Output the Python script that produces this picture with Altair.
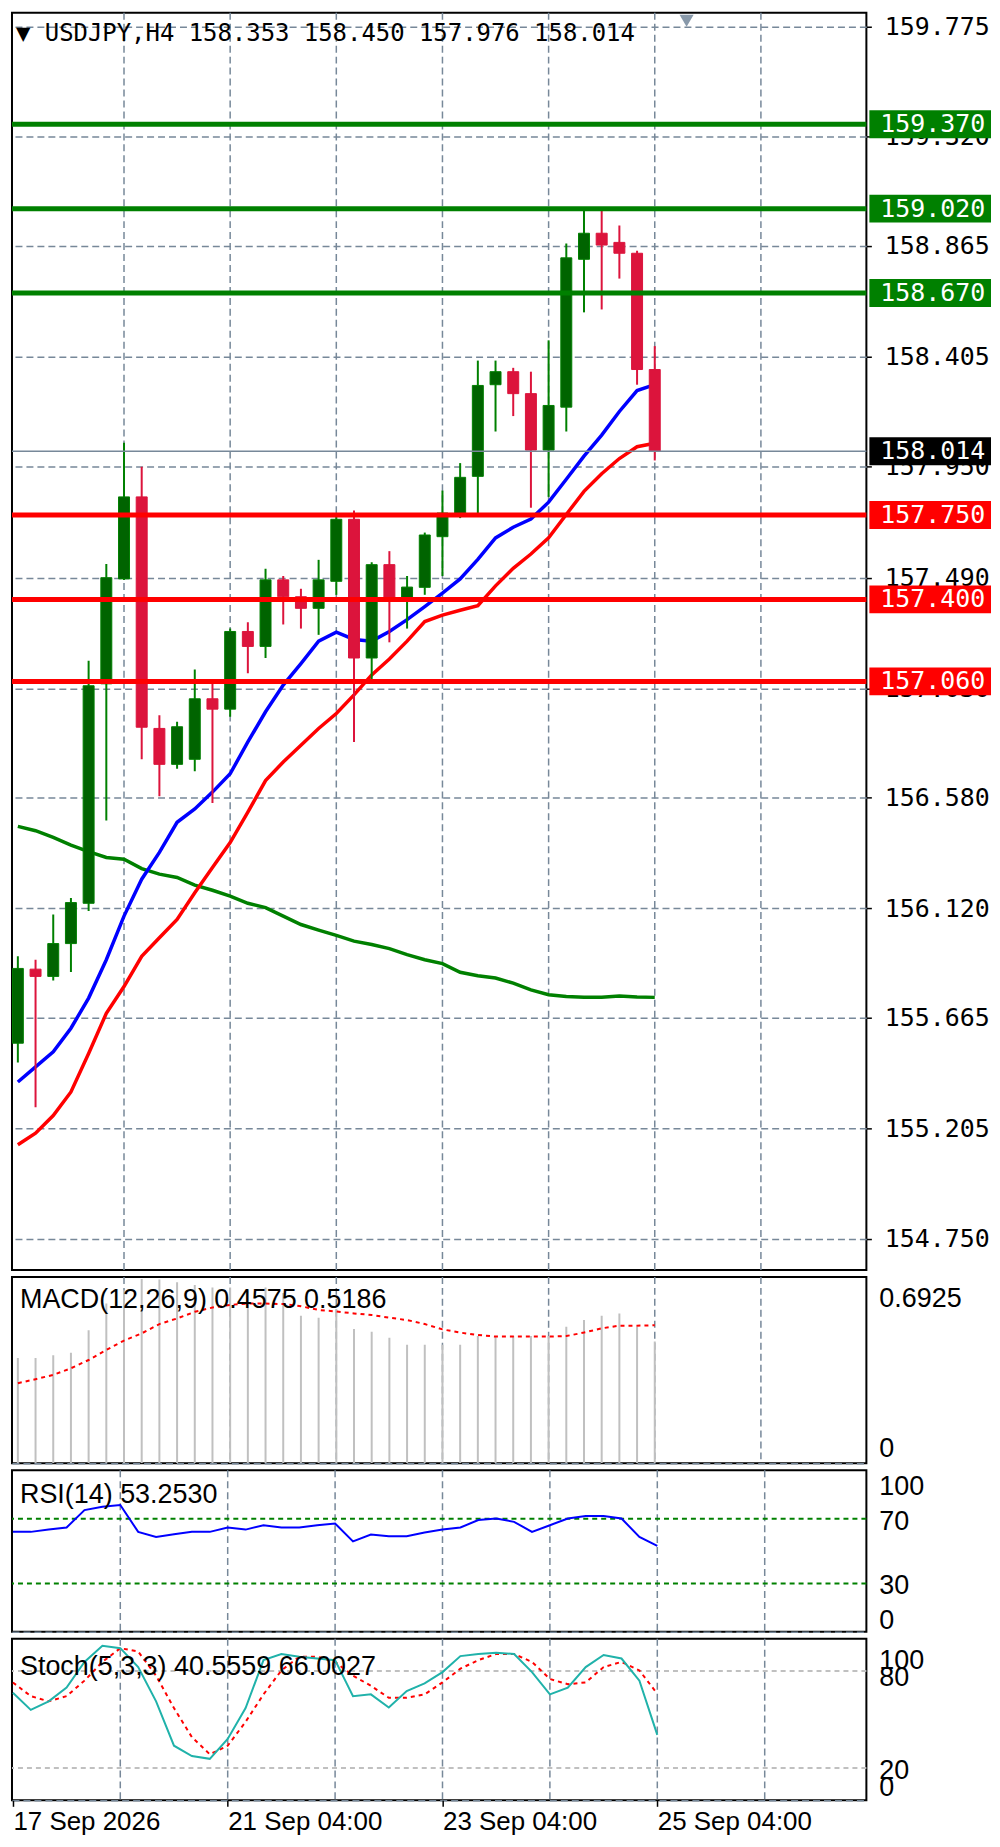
import altair as alt
import pandas as pd

# ---------------- data ----------------
idx = list(range(37))
opens = [155.56, 155.867, 155.837, 155.973, 156.14, 157.05, 157.485, 157.825, 156.865, 156.716,
         156.737, 156.988, 156.945, 157.267, 157.205, 157.481, 157.411, 157.363, 157.475, 157.732,
         157.157, 157.544, 157.404, 157.45, 157.66, 157.753, 157.91, 158.29, 158.344, 158.253,
         158.019, 158.197, 158.81, 158.918, 158.88, 158.835, 158.353]
highs = [155.92, 155.906, 156.094, 156.162, 157.146, 157.547, 158.049, 157.950, 156.920, 156.893,
         157.109, 157.064, 157.279, 157.305, 157.527, 157.497, 157.444, 157.564, 157.751, 157.769,
         157.554, 157.600, 157.497, 157.677, 157.851, 157.965, 158.390, 158.390, 158.360, 158.344,
         158.474, 158.875, 159.020, 159.020, 158.95, 158.845, 158.450]
lows = [155.48, 155.294, 155.82, 155.855, 156.108, 156.483, 157.48, 156.737, 156.584, 156.698,
        156.688, 156.556, 156.913, 157.094, 157.157, 157.296, 157.279, 157.253, 157.419, 156.809,
        157.064, 157.222, 157.279, 157.419, 157.497, 157.737, 157.753, 158.096, 158.160, 157.780,
        157.825, 158.096, 158.59, 158.602, 158.73, 158.29, 157.976]
closes = [155.87, 155.837, 155.973, 156.143, 157.042, 157.49, 157.825, 156.87, 156.716, 156.872,
          156.988, 156.945, 157.267, 157.205, 157.481, 157.411, 157.363, 157.481, 157.732, 157.157,
          157.544, 157.404, 157.451, 157.667, 157.758, 157.906, 158.287, 158.344, 158.253, 158.019,
          158.204, 158.816, 158.918, 158.869, 158.835, 158.353, 158.014]

ema_blue = [155.399, 155.462, 155.524, 155.622, 155.747, 155.906, 156.087, 156.240, 156.351, 156.476,
            156.531, 156.601, 156.677, 156.809, 156.934, 157.045, 157.134, 157.227, 157.264, 157.234,
            157.227, 157.267, 157.316, 157.370, 157.426, 157.485, 157.566, 157.655, 157.699, 157.733,
            157.803, 157.898, 157.994, 158.081, 158.179, 158.266, 158.290]
ema_red = [155.139, 155.187, 155.26, 155.358, 155.517, 155.684, 155.795, 155.92, 155.997, 156.073,
           156.184, 156.288, 156.392, 156.518, 156.649, 156.726, 156.795, 156.865, 156.927, 157.004,
           157.087, 157.153, 157.227, 157.308, 157.335, 157.355, 157.374, 157.456, 157.529, 157.588,
           157.655, 157.752, 157.848, 157.921, 157.984, 158.033, 158.047]
sma_green = [156.459, 156.441, 156.413, 156.381, 156.354, 156.330, 156.323, 156.284, 156.261, 156.247,
             156.215, 156.194, 156.170, 156.140, 156.122, 156.087, 156.052, 156.029, 156.007, 155.983,
             155.969, 155.952, 155.927, 155.906, 155.890, 155.854, 155.840, 155.830, 155.809, 155.781,
             155.761, 155.754, 155.751, 155.751, 155.756, 155.752, 155.750]

macd_hist = [0.396, 0.396, 0.406, 0.415, 0.50, 0.60, 0.65, 0.6925, 0.69, 0.68,
             0.67, 0.66, 0.66, 0.65, 0.66, 0.64, 0.554, 0.547, 0.58, 0.504,
             0.494, 0.472, 0.445, 0.445, 0.445, 0.445, 0.478, 0.478, 0.478, 0.478,
             0.478, 0.513, 0.538, 0.554, 0.563, 0.513, 0.4575]
macd_signal = [0.301, 0.316, 0.332, 0.357, 0.388, 0.426, 0.461, 0.488, 0.523, 0.544,
               0.569, 0.585, 0.595, 0.60, 0.60, 0.598, 0.59, 0.576, 0.57, 0.563,
               0.557, 0.547, 0.538, 0.523, 0.503, 0.491, 0.482, 0.476, 0.476, 0.476,
               0.476, 0.478, 0.491, 0.507, 0.517, 0.517, 0.5186]
rsi = [61.9, 61.9, 63.3, 64.6, 75.4, 77.5, 78.5, 61.9, 58.75, 60.4,
       61.9, 61.9, 64.6, 63.3, 66.0, 64.6, 64.6, 66.0, 67.1, 56.0,
       60.2, 59.2, 59.2, 61.5, 63.3, 64.6, 69.2, 70.2, 68.1, 61.9,
       66.0, 70.2, 71.7, 71.7, 70.2, 58.75, 53.253]
stoch_k = [66.6, 56.0, 61.3, 69.8, 85.7, 95.7, 94.2, 82.5, 61.3, 33.8,
           27.4, 25.7, 38.0, 57.1, 86.8, 90.6, 88.9, 87.8, 86.8, 64.5,
           65.6, 57.5, 67.7, 72.4, 79.4, 89.3, 90.6, 91.4, 90.6, 79.4,
           65.6, 69.8, 82.5, 90.0, 87.8, 74.1, 40.5559]
stoch_d = [73.0, 64.5, 61.3, 64.5, 74.1, 85.7, 94.2, 92.1, 77.2, 57.1,
           39.1, 28.5, 33.8, 48.6, 65.6, 80.4, 88.9, 88.9, 85.7, 77.2,
           70.9, 63.5, 63.5, 65.6, 73.0, 81.5, 86.8, 90.6, 90.6, 85.7,
           75.1, 71.9, 73.0, 82.5, 85.7, 80.4, 66.0027]

price_ticks = [159.775, 159.320, 158.865, 158.405, 157.950, 157.490, 157.030,
               156.580, 156.120, 155.665, 155.205, 154.750]
sr_green = [159.370, 159.020, 158.670]
sr_red = [157.750, 157.400, 157.060]
last_price = [158.014]
grid_x = [6, 12, 18, 24, 30, 36, 42]
date_ticks = [0, 12, 24, 36]
date_labels = ["17 Sep 2026", "21 Sep 04:00", "23 Sep 04:00", "25 Sep 04:00"]
shift_marker = [37.8]
macd_levels, macd_level_text = [0.6925, 0], ["0.6925", "0"]
rsi_levels = [70, 30]
rsi_axis, rsi_axis_text = [100, 70, 30, 0], ["100", "70", "30", "0"]
stoch_levels = [80, 20]
stoch_axis, stoch_axis_text = [100, 80, 20, 0], ["100", "80", "20", "0"]

symbol = "USDJPY,H4"

# ---------------- style ----------------
W = 857
H_MAIN, H_MACD, H_RSI, H_STO = 1261, 187, 162, 162
MONO = "DejaVu Sans Mono"
SANS = "Liberation Sans"
GRID = "#778899"
DASH = [7, 4]

xs = alt.Scale(domain=[-0.05, 47.68], nice=False, zero=False)
ys_main = alt.Scale(domain=[154.620, 159.832], nice=False, zero=False)
ys_macd = alt.Scale(domain=[0, 0.70], nice=False, zero=False)
ys_100 = alt.Scale(domain=[0, 100], nice=False, zero=False)

main_axis = alt.Axis(orient="right", values=price_ticks, format=".3f", labelFont=MONO,
                     labelFontSize=25, labelColor="black", tickSize=5, tickColor="black",
                     tickWidth=1.5, labelPadding=13, domain=False, grid=True,
                     gridColor=GRID, gridDash=DASH, gridWidth=1.5, title=None,
                     labelFlush=False, labelOverlap=False, labelBound=False)
zero_axis = alt.Axis(values=[0], grid=True, gridColor=GRID, gridDash=DASH, gridWidth=1.5,
                     labels=False, ticks=False, domain=False, title=None)
label_expr = " : ".join(
    [f"datum.value == {v} ? '{t}'" for v, t in zip(date_ticks, date_labels)]) + " : ''"
date_axis = alt.Axis(values=date_ticks, labelExpr=label_expr, labelAlign="left",
                     labelBaseline="top", labelFont=SANS, labelFontSize=26,
                     labelColor="black", tickSize=6, tickColor="black", tickWidth=1.5,
                     labelPadding=2, domain=False, grid=False, title=None,
                     labelFlush=False, labelOverlap=False, labelBound=False)


class Panel:
    def __init__(self, ys, ya, xa=None):
        self.ys, self.ya, self.xa = ys, ya, xa

    def X(self, f):
        return alt.X(f, type="quantitative", scale=xs, axis=self.xa, title=None)

    def Y(self, f):
        return alt.Y(f, type="quantitative", scale=self.ys, axis=self.ya, title=None)

    def vgrid(self):
        return alt.Chart(pd.DataFrame({"g": grid_x})).mark_rule(
            color=GRID, strokeDash=DASH, strokeWidth=1.5).encode(x=self.X("g"))

    def line(self, values, color, width, dash=None):
        kw = dict(color=color, strokeWidth=width, clip=True)
        if dash:
            kw["strokeDash"] = dash
        return alt.Chart(pd.DataFrame({"i": idx, "v": values})).mark_line(**kw).encode(
            x=self.X("i"), y=self.Y("v"))

    def hlines(self, vals, color, width, dash=None, opacity=1):
        kw = dict(color=color, strokeWidth=width, opacity=opacity)
        if dash:
            kw["strokeDash"] = dash
        return alt.Chart(pd.DataFrame({"p": vals})).mark_rule(**kw).encode(y=self.Y("p"))

    def side_label(self, v, t, dy):
        return alt.Chart(pd.DataFrame({"v": [v], "t": [t]})).mark_text(
            align="left", baseline="middle", dy=dy, font=SANS, fontSize=27,
            color="black", clip=False).encode(x=alt.value(W + 13), y=self.Y("v"), text="t:N")


def corner_text(t, y, font=SANS, size=27, x=8):
    return alt.Chart(pd.DataFrame({"t": [t]})).mark_text(
        align="left", baseline="middle", font=font, fontSize=size, color="black").encode(
        x=alt.value(x), y=alt.value(y), text="t:N")


candles = pd.DataFrame({"i": idx, "o": opens, "h": highs, "l": lows, "c": closes})

# ---------------- main panel ----------------
P = Panel(ys_main, main_axis)
up = "datum.c >= datum.o"
down = "datum.c < datum.o"
wick_up = alt.Chart(candles).transform_filter(up).mark_rule(
    color="#008000", strokeWidth=2, clip=True).encode(x=P.X("i"), y=P.Y("l"), y2="h:Q")
wick_dn = alt.Chart(candles).transform_filter(down).mark_rule(
    color="#DC143C", strokeWidth=2, clip=True).encode(x=P.X("i"), y=P.Y("l"), y2="h:Q")
body_up = alt.Chart(candles).transform_filter(up).mark_bar(
    size=11, fill="#006400", stroke="#008000", strokeWidth=1, clip=True).encode(
    x=P.X("i"), y=P.Y("o"), y2="c:Q")
body_dn = alt.Chart(candles).transform_filter(down).mark_bar(
    size=11, fill="#DC143C", stroke="#DC143C", strokeWidth=1, clip=True).encode(
    x=P.X("i"), y=P.Y("o"), y2="c:Q")

BOX_L, BOX_R = W + 3, W + 125


def boxes(vals, color):
    d = pd.DataFrame({"p": vals, "t": [f"{v:.3f}" for v in vals]})
    box = alt.Chart(d).mark_tick(
        orient="horizontal", size=BOX_R - BOX_L, thickness=28, color=color,
        opacity=1, clip=False).encode(y=P.Y("p"), x=alt.value((BOX_L + BOX_R) / 2))
    txt = alt.Chart(d).mark_text(align="left", baseline="middle", font=MONO, fontSize=25,
                                 color="white", clip=False).encode(
        y=P.Y("p"), x=alt.value(W + 14), text="t:N")
    return box + txt


title_txt = "▼ {}  {:.3f} {:.3f} {:.3f} {:.3f}".format(symbol, opens[-1], highs[-1], lows[-1], closes[-1])
marker = alt.Chart(pd.DataFrame({"m": shift_marker})).mark_point(
    shape="triangle-down", filled=True, size=200, color="#8899aa", opacity=1).encode(
    x=P.X("m"), y=alt.value(8))

main = alt.layer(
    P.hlines(price_ticks, GRID, 1, opacity=0),
    P.vgrid(),
    P.line(sma_green, "#008000", 3.5),
    P.line(ema_red, "#FF0000", 3.5),
    P.line(ema_blue, "#0000FF", 3.5),
    wick_up, wick_dn, body_up, body_dn,
    P.hlines(last_price, GRID, 1.5),
    P.hlines(sr_green, "#008000", 5), P.hlines(sr_red, "#FF0000", 5),
    boxes(sr_green, "#008000"), boxes(sr_red, "#FF0000"), boxes(last_price, "#000000"),
    corner_text(title_txt, 21, MONO, 24, 4),
    marker,
).properties(width=W, height=H_MAIN)

# ---------------- MACD ----------------
M = Panel(ys_macd, zero_axis)
macd_bars = alt.Chart(pd.DataFrame({"i": idx, "h": macd_hist})).mark_bar(
    size=2, color="#C0C0C0", clip=True).encode(x=M.X("i"), y=M.Y("h"))
macd_txt = "MACD(12,26,9) {:.4f} {:.4f}".format(macd_hist[-1], macd_signal[-1])
macd = alt.layer(
    M.vgrid(), macd_bars,
    M.line(macd_signal, "#FF0000", 2, [4, 4]),
    corner_text(macd_txt, 23),
    M.side_label(macd_levels[0], macd_level_text[0], 20),
    M.side_label(macd_levels[1], macd_level_text[1], -14),
).properties(width=W, height=H_MACD)

# ---------------- RSI ----------------
R = Panel(ys_100, zero_axis)
rsi_txt = "RSI(14) {:.4f}".format(rsi[-1])
rsi_dys = [17, 3, 3, -11]
rsi_chart = alt.layer(
    R.vgrid(),
    R.hlines(rsi_levels, "#008000", 2, [5, 4]),
    R.line(rsi, "#0000FF", 2),
    corner_text(rsi_txt, 25),
    *[R.side_label(v, t, d) for v, t, d in zip(rsi_axis, rsi_axis_text, rsi_dys)],
).properties(width=W, height=H_RSI)

# ---------------- Stochastic ----------------
S = Panel(ys_100, zero_axis, date_axis)
sto_txt = "Stoch(5,3,3) {:.4f} {:.4f}".format(stoch_k[-1], stoch_d[-1])
sto_dys = [22, 7, 3, -12]
sto_chart = alt.layer(
    S.vgrid(),
    S.hlines(stoch_levels, "#C0C0C0", 2, [5, 4]),
    S.line(stoch_d, "#FF0000", 2, [4, 4]),
    S.line(stoch_k, "#20B2AA", 2),
    corner_text(sto_txt, 28),
    *[S.side_label(v, t, d) for v, t, d in zip(stoch_axis, stoch_axis_text, sto_dys)],
).properties(width=W, height=H_STO)

chart = alt.vconcat(main, macd, rsi_chart, sto_chart, spacing=7, bounds="flush").properties(
    padding=0
).configure_view(stroke="black", strokeWidth=2)

chart.save("out.html", embed_options={"renderer": "svg", "actions": False})
